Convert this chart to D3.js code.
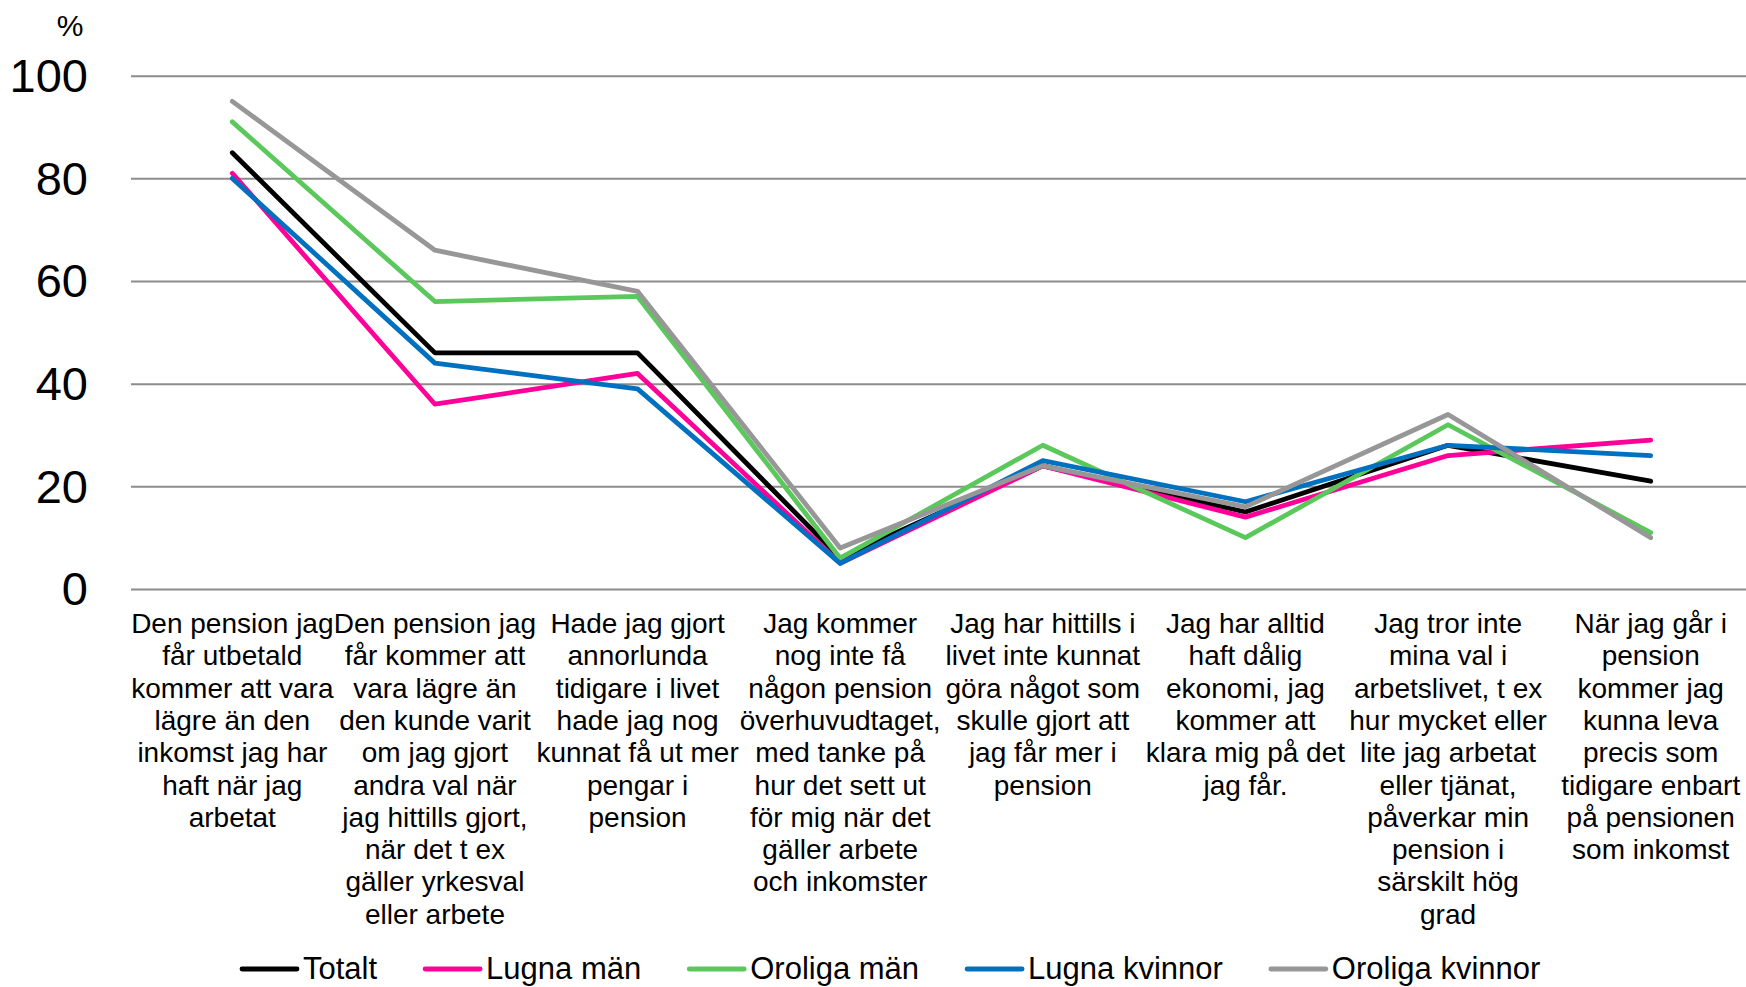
<!DOCTYPE html>
<html lang="sv">
<head>
    <meta charset="UTF-8">
    <title>Pension – andel som instämmer</title>
    <script src="https://d3js.org/d3.v7.min.js"></script>
    <style>
        body {
            margin: 0;
            padding: 0;
            background: #ffffff;
            font-family: "Liberation Sans", Arial, sans-serif;
            overflow: hidden;
        }
        svg text { fill: #000; }
        .grid line { stroke: #8c8c8c; stroke-width: 2; }
        .grid .domain { display: none; }
    </style>
</head>
<body>
    <div id="chart"></div>

    <script>
        // category labels, already wrapped as in the original
        const categories = [
            ["Den pension jag", "får utbetald", "kommer att vara", "lägre än den", "inkomst jag har", "haft när jag", "arbetat"],
            ["Den pension jag", "får kommer att", "vara lägre än", "den kunde varit", "om jag gjort", "andra val när", "jag hittills gjort,", "när det t ex", "gäller yrkesval", "eller arbete"],
            ["Hade jag gjort", "annorlunda", "tidigare i livet", "hade jag nog", "kunnat få ut mer", "pengar i", "pension"],
            ["Jag kommer", "nog inte få", "någon pension", "överhuvudtaget,", "med tanke på", "hur det sett ut", "för mig när det", "gäller arbete", "och inkomster"],
            ["Jag har hittills i", "livet inte kunnat", "göra något som", "skulle gjort att", "jag får mer i", "pension"],
            ["Jag har alltid", "haft dålig", "ekonomi, jag", "kommer att", "klara mig på det", "jag får."],
            ["Jag tror inte", "mina val i", "arbetslivet, t ex", "hur mycket eller", "lite jag arbetat", "eller tjänat,", "påverkar min", "pension i", "särskilt hög", "grad"],
            ["När jag går i", "pension", "kommer jag", "kunna leva", "precis som", "tidigare enbart", "på pensionen", "som inkomst"]
        ];

        const seriesNames = ["Totalt", "Lugna män", "Oroliga män", "Lugna kvinnor", "Oroliga kvinnor"];
        const seriesColors = ["#000000", "#ff0099", "#5bc85b", "#0070c0", "#979797"];

        const totalt         = [85, 46, 46, 6, 24, 15, 28, 21];
        const lugnaMan       = [81, 36, 42, 5, 24, 14, 26, 29];
        const oroligaMan     = [91, 56, 57, 6, 28, 10, 32, 11];
        const lugnaKvinnor   = [80, 44, 39, 5, 25, 17, 28, 26];
        const oroligaKvinnor = [95, 66, 58, 8, 24, 16, 34, 10];

        const yTicks = [0, 20, 40, 60, 80, 100];

        const series = [totalt, lugnaMan, oroligaMan, lugnaKvinnor, oroligaKvinnor].map((vals, i) => ({
            name: seriesNames[i],
            color: seriesColors[i],
            values: vals.map((v, j) => ({ idx: j, value: v }))
        }));

        const width = 1746;
        const height = 987;

        const svg = d3.select("#chart")
            .append("svg")
            .attr("width", width)
            .attr("height", height);

        const x = d3.scaleBand()
            .domain(d3.range(categories.length))
            .range([131, 1752]);

        const y = d3.scaleLinear()
            .domain([0, 100])
            .range([589, 75.7]);

        // gridlines
        svg.append("g")
            .attr("class", "grid")
            .attr("transform", "translate(131,0)")
            .call(d3.axisRight(y).tickValues(yTicks).tickSize(width).tickFormat(""));

        // y labels
        svg.append("g")
            .selectAll("text")
            .data(yTicks)
            .enter().append("text")
            .attr("x", 88)
            .attr("y", d => y(d))
            .attr("dy", "0.35em")
            .attr("text-anchor", "end")
            .style("font-size", "47px")
            .text(d => d);

        svg.append("text")
            .attr("x", 70)
            .attr("y", 36)
            .attr("text-anchor", "middle")
            .style("font-size", "30px")
            .text("%");

        // category labels
        const catLabel = svg.append("g")
            .selectAll("text")
            .data(categories)
            .enter().append("text")
            .attr("text-anchor", "middle")
            .style("font-size", "28px");

        catLabel.selectAll("tspan")
            .data((d, i) => d.map(line => ({ line, i })))
            .enter().append("tspan")
            .attr("x", d => x(d.i) + x.bandwidth() / 2)
            .attr("y", (d, k) => 633 + k * 32.3)
            .text(d => d.line);

        // lines
        const line = d3.line()
            .x(d => x(d.idx) + x.bandwidth() / 2)
            .y(d => y(d.value));

        svg.append("g")
            .selectAll("path")
            .data(series)
            .enter().append("path")
            .attr("d", d => line(d.values))
            .attr("fill", "none")
            .attr("stroke", d => d.color)
            .attr("stroke-width", 4.8)
            .attr("stroke-linejoin", "round")
            .attr("stroke-linecap", "round");

        // legend
        const legend = svg.append("g");
        let lx = 242;
        series.forEach(s => {
            legend.append("line")
                .attr("x1", lx)
                .attr("x2", lx + 55)
                .attr("y1", 969)
                .attr("y2", 969)
                .attr("stroke", s.color)
                .attr("stroke-width", 4.8)
                .attr("stroke-linecap", "round");
            const t = legend.append("text")
                .attr("x", lx + 61)
                .attr("y", 979)
                .style("font-size", "31px")
                .text(s.name);
            lx += 61 + t.node().getComputedTextLength() + 48;
        });
    </script>
</body>
</html>
